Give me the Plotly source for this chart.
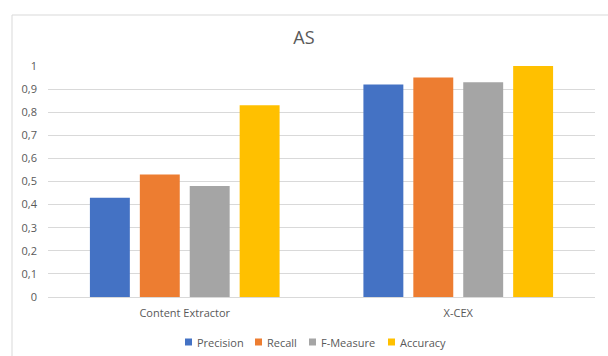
import plotly.graph_objects as go

# Extraction quality for the "AS" dataset
categories = ["Content Extractor", "X-CEX"]
precision = [0.43, 0.92]
recall = [0.53, 0.95]
f_measure = [0.48, 0.93]
accuracy = [0.83, 1.0]

y_ticks = [0, 0.1, 0.2, 0.3, 0.4, 0.5, 0.6, 0.7, 0.8, 0.9, 1]
y_tick_labels = ["0", "0,1", "0,2", "0,3", "0,4", "0,5", "0,6", "0,7", "0,8", "0,9", "1"]

series_names = ["Precision", "Recall", "F-Measure", "Accuracy"]
series_values = [precision, recall, f_measure, accuracy]
series_colors = ["#4472C4", "#ED7D31", "#A5A5A5", "#FFC000"]

# Figure geometry (pixels)
W, H = 608, 356
PLOT_L, PLOT_R, PLOT_T, PLOT_B = 48, 595, 66, 297
legend_px = [185, 255, 309, 388]   # left edge of each legend swatch
legend_py = 342

font_family = "Open Sans, Liberation Sans, sans-serif"
text_grey = "#595959"


def px_to_paper(px, py):
    return ((px - PLOT_L) / (PLOT_R - PLOT_L), (PLOT_B - py) / (PLOT_B - PLOT_T))


fig = go.Figure()
for name, values, color in zip(series_names, series_values, series_colors):
    fig.add_trace(go.Bar(
        name=name,
        x=categories,
        y=values,
        marker=dict(color=color, line=dict(width=0)),
        showlegend=False,
    ))

fig.update_layout(
    width=W,
    height=H,
    margin=dict(l=PLOT_L, r=W - PLOT_R, t=PLOT_T, b=H - PLOT_B, autoexpand=False),
    paper_bgcolor="white",
    plot_bgcolor="white",
    barmode="group",
    bargap=0.27,
    bargroupgap=0.2,
    title=dict(
        text="AS",
        x=0.5,
        xanchor="center",
        y=1 - 38 / H,
        yanchor="middle",
        font=dict(family=font_family, size=18, color=text_grey),
    ),
    font=dict(family=font_family, size=11, color=text_grey),
)

fig.update_xaxes(
    showgrid=False,
    showline=False,
    ticks="",
    tickfont=dict(family=font_family, size=11, color=text_grey),
    ticklabelstandoff=8,
)
fig.update_yaxes(
    range=[0, 1],
    tickvals=y_ticks,
    ticktext=y_tick_labels,
    showgrid=True,
    gridcolor="#D9D9D9",
    gridwidth=1,
    zeroline=True,
    zerolinecolor="#D9D9D9",
    zerolinewidth=1,
    showline=False,
    ticks="",
    tickfont=dict(family=font_family, size=11, color=text_grey),
    ticklabelstandoff=10,
)

# Chart-area frame
fx0, fy0 = px_to_paper(12, 15)
fig.add_shape(
    type="rect", xref="paper", yref="paper",
    x0=fx0, x1=1.2, y0=-0.4, y1=fy0,
    line=dict(color="#D9D9D9", width=1),
    fillcolor="rgba(0,0,0,0)",
    layer="below",
)

# Compact legend: small square swatch followed by the series name
for name, color, lx in zip(series_names, series_colors, legend_px):
    x0, y0 = px_to_paper(lx, legend_py + 3.5)
    x1, y1 = px_to_paper(lx + 7, legend_py - 3.5)
    fig.add_shape(
        type="rect", xref="paper", yref="paper",
        x0=x0, x1=x1, y0=y0, y1=y1,
        line=dict(width=0), fillcolor=color,
    )
    tx, ty = px_to_paper(lx + 10, legend_py)
    fig.add_annotation(
        text=name, xref="paper", yref="paper",
        x=tx, y=ty, xanchor="left", yanchor="middle",
        showarrow=False,
        font=dict(family=font_family, size=11, color=text_grey),
    )

fig.write_html("out.html")
